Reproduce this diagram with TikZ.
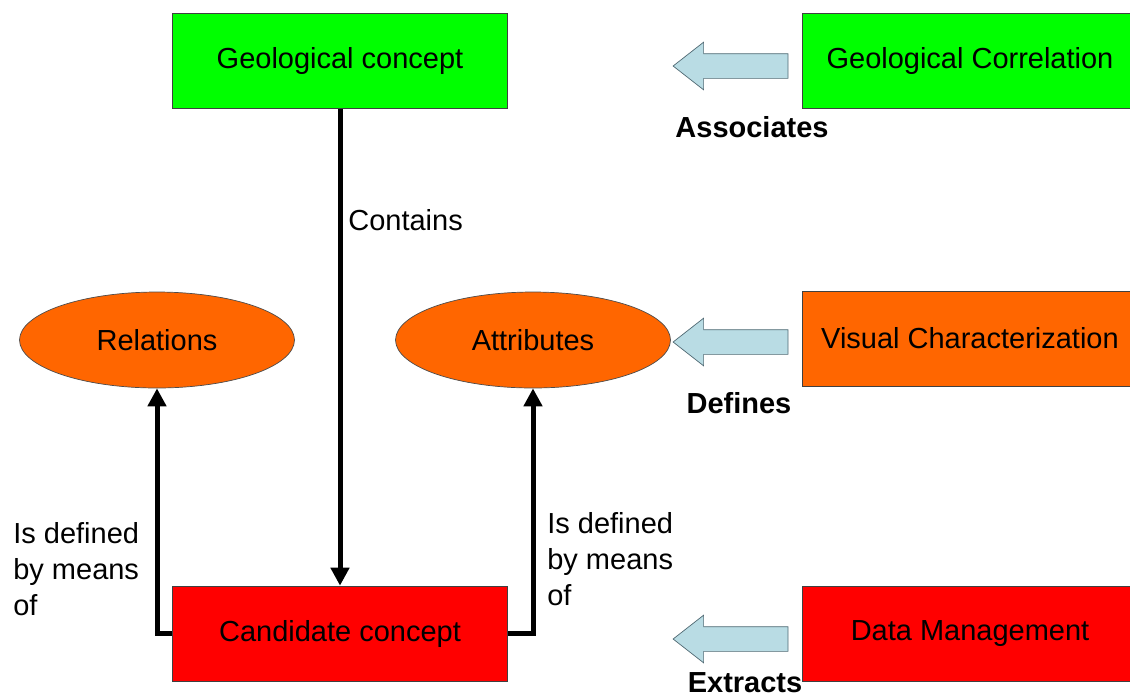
\documentclass[tikz,border=0pt]{standalone}
\usepackage{fontspec}
\setmainfont{Liberation Sans}
\usepackage{xcolor}
\usetikzlibrary{positioning,%
  shapes.geometric,%
  shapes.arrows,%
  arrows.meta
}

\definecolor{geogreen}{RGB}{0,255,0}
\definecolor{visorange}{RGB}{255,102,0}
\definecolor{datared}{RGB}{255,0,0}
\definecolor{hintblue}{RGB}{185,220,228}
\definecolor{hintedge}{RGB}{80,105,115}

\begin{document}
\begin{tikzpicture}
                    [
                        x=0.02cm, y=-0.02cm,
                        every node/.style={font=\fontsize{16.5}{20.5}\selectfont},
                        conceptbox/.style={draw=black!75, thin, minimum width=6.7cm, minimum height=1.9cm},
                        featureoval/.style={ellipse, draw=black!70, thin, fill=visorange, minimum width=5.5cm, minimum height=1.92cm},
                        hintarrow/.style={single arrow, shape border rotate=180, draw=hintedge, thin, fill=hintblue,
                            inner sep=0pt, inner ysep=0.24cm, single arrow head extend=0.23cm,
                            single arrow tip angle=76, minimum height=2.3cm},
                        hintlabel/.style={font=\fontsize{16.5}{20.5}\selectfont\bfseries},
                        relation/.style={line width=0.1cm, -{Triangle[length=0.36cm, width=0.36cm]}},
                        every path/.style={thin}
                    ]

                    % Rahmen
                    \useasboundingbox (0,0) rectangle (1130,698);

                    % linke Seite
                    \node[conceptbox, fill=geogreen] (geo) at (340,61) {Geological concept};
                    \node[featureoval] (rel) at (157,340) {Relations};
                    \node[featureoval] (attr) at (533,340) {Attributes};
                    \node[conceptbox, fill=datared] (cand) at (340,633.5) {Candidate concept};

                    % rechte Seite
                    \node[conceptbox, fill=geogreen] (corr) at (970,61) {Geological Correlation};
                    \node[conceptbox, fill=visorange] (vis) at (970,338.5) {Visual Characterization};
                    \node[conceptbox, fill=datared] (data) at (970,633.5) {Data Management};

                    % Pfeile
                    \node[hintarrow] (assocarrow) at (738.5,66) {};
                    \node[hintarrow] (defarrow) at (738.5,342) {};
                    \node[hintarrow] (extrarrow) at (738.5,639) {};
                    \node[hintlabel] (assoc) at (752,127) {Associates};
                    \node[hintlabel] (defines) at (739,403) {Defines};
                    \node[hintlabel] (extracts) at (745,683) {Extracts};

                    % Verbindungen
                    \draw[relation] (geo.south) -- (cand.north);
                    \draw[relation] (cand.west) -| (rel.south);
                    \draw[relation] (cand.east) -| (attr.south);

                    \node[anchor=west, inner sep=0pt] (contains) at (348,220) {Contains};
                    \node[anchor=north west, align=left, inner sep=0pt] (leftdef) at (13,522)
                        {Is defined\\by means\\of};
                    \node[anchor=north west, align=left, inner sep=0pt] (rightdef) at (547,512)
                        {Is defined\\by means\\of};
                \end{tikzpicture}
\end{document}
